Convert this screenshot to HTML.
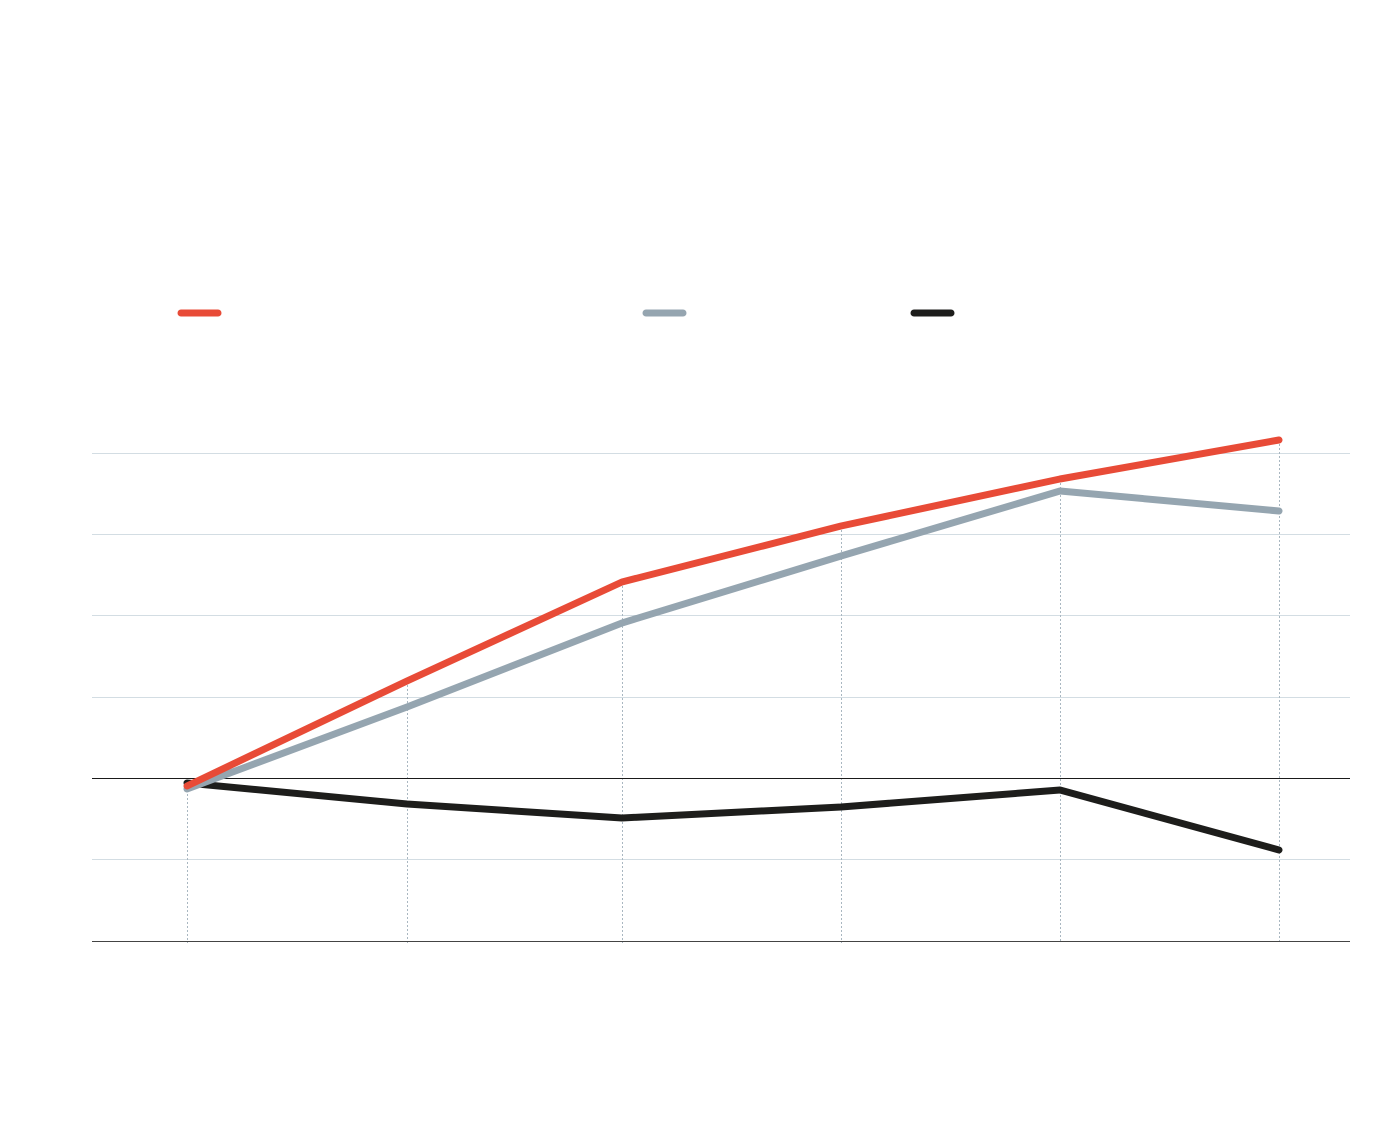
<!DOCTYPE html>
<html><head><meta charset="utf-8"><style>html,body{margin:0;padding:0;background:#fff}svg{display:block}</style></head>
<body>
<svg width="1400" height="1124" viewBox="0 0 1400 1124" xmlns="http://www.w3.org/2000/svg">
<g stroke="#d3dde3" stroke-width="1">
<line x1="92" y1="453.5" x2="1350" y2="453.5"/>
<line x1="92" y1="534.5" x2="1350" y2="534.5"/>
<line x1="92" y1="615.5" x2="1350" y2="615.5"/>
<line x1="92" y1="697.5" x2="1350" y2="697.5"/>
<line x1="92" y1="859.5" x2="1350" y2="859.5"/>
</g>
<g stroke="#a9b7c1" stroke-width="1" stroke-dasharray="2,2">
<line x1="187.5" y1="786" x2="187.5" y2="943"/>
<line x1="407.5" y1="681" x2="407.5" y2="943"/>
<line x1="622.5" y1="582" x2="622.5" y2="943"/>
<line x1="841.5" y1="526" x2="841.5" y2="943"/>
<line x1="1060.5" y1="479" x2="1060.5" y2="943"/>
<line x1="1279.5" y1="440" x2="1279.5" y2="943"/>
</g>
<line x1="92" y1="778.5" x2="1350" y2="778.5" stroke="#1a1a1a" stroke-width="1"/>
<line x1="92" y1="941.5" x2="1350" y2="941.5" stroke="#444" stroke-width="1"/>
<g fill="none" stroke-width="7" stroke-linecap="round" stroke-linejoin="round">
<polyline stroke="#1d1d1b" points="187,783 407,804 622,818 841,807 1060,790 1279,850"/>
<polyline stroke="#95a5b0" points="187,789 407,707 622,623 841,556 1060,491 1279,511"/>
<polyline stroke="#e84b37" points="187,786 407,681 622,582 841,526 1060,479 1279,440"/>
</g>
<g stroke-width="7" stroke-linecap="round">
<line x1="181" y1="313" x2="218" y2="313" stroke="#e84b37"/>
<line x1="646" y1="313" x2="683" y2="313" stroke="#95a5b0"/>
<line x1="914" y1="313" x2="951" y2="313" stroke="#1d1d1b"/>
</g>
</svg>
</body></html>
